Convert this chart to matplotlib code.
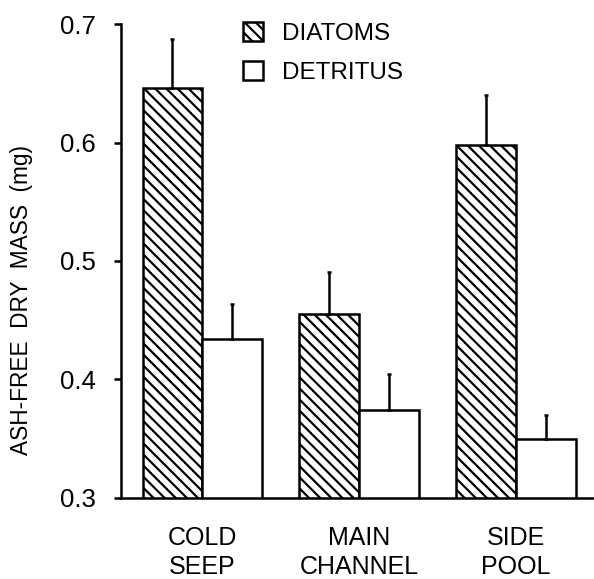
import numpy as np
import matplotlib.pyplot as plt

# Data
sites = ["COLD\nSEEP", "MAIN\nCHANNEL", "SIDE\nPOOL"]
diatoms = [0.646, 0.455, 0.598]
diatoms_err = [0.041, 0.036, 0.042]
detritus = [0.434, 0.374, 0.350]
detritus_err = [0.030, 0.031, 0.020]

plt.rcParams['font.family'] = ['Liberation Sans', 'DejaVu Sans']
plt.rcParams['hatch.linewidth'] = 1.6

x = np.arange(len(sites))
w = 0.38

fig = plt.figure(figsize=(5.94, 5.79), dpi=100)
ax = fig.add_axes([0.204, 0.140, 0.796, 0.8185])

err_kw = dict(elinewidth=1.8, capsize=1.5, capthick=1.8, ecolor='black')
ax.bar(x - w / 2, diatoms, w, yerr=[np.zeros(3), diatoms_err],
       color='white', edgecolor='black', linewidth=1.8, hatch='\\\\\\',
       error_kw=err_kw, label='DIATOMS', zorder=2)
ax.bar(x + w / 2, detritus, w, yerr=[np.zeros(3), detritus_err],
       color='white', edgecolor='black', linewidth=1.8,
       error_kw=err_kw, label='DETRITUS', zorder=2)

ax.set_ylim(0.3, 0.7)
ax.set_xlim(-0.516, 2.497)
ax.set_yticks([0.3, 0.4, 0.5, 0.6, 0.7])
ax.set_yticklabels(['0.3', '0.4', '0.5', '0.6', '0.7'], fontsize=18.5)
ax.set_xticks(x)
ax.set_xticklabels(sites, fontsize=18, linespacing=1.3)
ax.tick_params(axis='x', length=0, pad=20)
ax.tick_params(axis='y', length=5, width=1.8, pad=13)

for s in ['top', 'right']:
    ax.spines[s].set_visible(False)
for s in ['left', 'bottom']:
    ax.spines[s].set_linewidth(1.8)

fig.text(0.037, 1 - 300 / 579, 'ASH-FREE  DRY  MASS  (mg)', rotation=90,
         ha='center', va='center', fontsize=16.3)

leg = ax.legend(loc='upper left', bbox_to_anchor=(0.2365, 1.025), frameon=False,
                fontsize=17.5, handlelength=0.85, handleheight=0.85,
                handletextpad=0.75, labelspacing=0.65, borderaxespad=0)

fig.savefig('out.png', dpi=100)
